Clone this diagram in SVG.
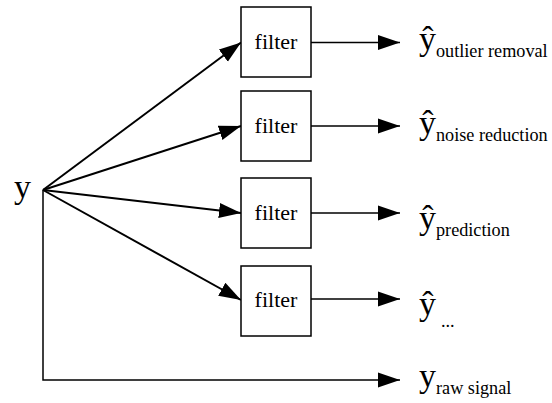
<svg xmlns="http://www.w3.org/2000/svg" width="552" height="403" viewBox="0 0 552 403">
<style>
  .box { fill: #ffffff; stroke: #000000; stroke-width: 1.5; }
  .lbl { font-family: "Liberation Serif", serif; font-size: 22px; fill: #000000; text-anchor: middle; }
  .big { font-family: "Liberation Serif", serif; font-size: 34px; fill: #000000; }
  .sub { font-size: 18.2px; }
  .wire { fill: none; stroke: #000000; stroke-width: 1.5; }
  .diag { fill: none; stroke: #000000; stroke-width: 2; }
</style>
<defs>
  <marker id="ah" markerUnits="userSpaceOnUse" markerWidth="22" markerHeight="16" refX="22" refY="8" orient="auto">
    <path d="M0,0.5 L22,8 L0,15.5 Z" fill="#000000"/>
  </marker>
</defs>
<rect width="552" height="403" fill="#ffffff"/>
<g id="connectors">
  <line class="diag" x1="43" y1="190" x2="241" y2="42.5" marker-end="url(#ah)"/>
  <line class="diag" x1="43" y1="190" x2="241" y2="126" marker-end="url(#ah)"/>
  <line class="diag" x1="43" y1="190" x2="241" y2="213" marker-end="url(#ah)"/>
  <line class="diag" x1="43" y1="190" x2="241" y2="300" marker-end="url(#ah)"/>
  <line class="wire" x1="311" y1="42.5" x2="400" y2="42.5" marker-end="url(#ah)"/>
  <line class="wire" x1="311" y1="126" x2="400" y2="126" marker-end="url(#ah)"/>
  <line class="wire" x1="311" y1="213" x2="400" y2="213" marker-end="url(#ah)"/>
  <line class="wire" x1="311" y1="299" x2="400" y2="299" marker-end="url(#ah)"/>
  <polyline class="wire" points="43,190 43,380 400,380" marker-end="url(#ah)"/>
</g>
<g id="input">
  <text class="big" x="14" y="198">y</text>
</g>
<g id="filter1">
  <rect class="box" x="241" y="7" width="70" height="70"/>
  <text class="lbl" x="276" y="49">filter</text>
</g>
<g id="filter2">
  <rect class="box" x="241" y="91" width="70" height="70"/>
  <text class="lbl" x="276" y="133">filter</text>
</g>
<g id="filter3">
  <rect class="box" x="241" y="178" width="70" height="70"/>
  <text class="lbl" x="276" y="220">filter</text>
</g>
<g id="filter4">
  <rect class="box" x="241" y="266" width="70" height="70"/>
  <text class="lbl" x="276" y="307">filter</text>
</g>
<g id="out1">
  <text class="big" x="419" y="50">ŷ<tspan class="sub" dy="7">outlier removal</tspan></text>
</g>
<g id="out2">
  <text class="big" x="419" y="134">ŷ<tspan class="sub" dy="7">noise reduction</tspan></text>
</g>
<g id="out3">
  <text class="big" x="419" y="229">ŷ<tspan class="sub" dy="7">prediction</tspan></text>
</g>
<g id="out4">
  <text class="big" x="419" y="315">ŷ<tspan class="sub" x="441" dy="12">...</tspan></text>
</g>
<g id="out5">
  <text class="big" x="419" y="387">y<tspan class="sub" dy="7">raw signal</tspan></text>
</g>
</svg>
